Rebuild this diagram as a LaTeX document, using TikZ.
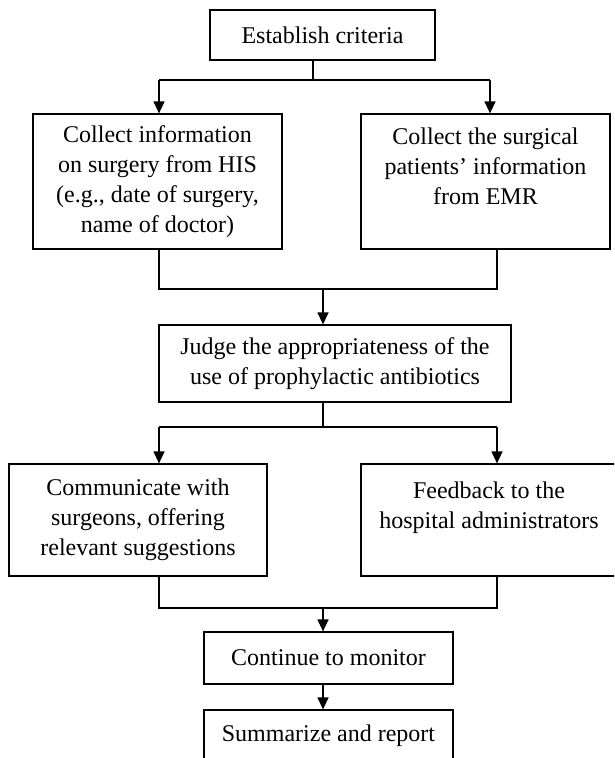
\documentclass[tikz,border=0pt]{standalone}
\usepackage{fontspec}
\setmainfont{Liberation Serif}
\usetikzlibrary{arrows.meta}

\begin{document}
\begin{tikzpicture}
				[x=1pt,y=-1pt,line width=1.2pt,
				every node/.style={draw,align=center,inner sep=0pt,font=\fontsize{24}{30}\selectfont},
				arr/.style={-{Triangle[length=12pt,width=11pt]}}]
				\clip (0,0) rectangle (614,758);
				\node[minimum width=225,minimum height=50] (est) at (322.5,35) {Establish criteria};
				\node[minimum width=249,minimum height=135] (coll1) at (157.5,181.5) {Collect information\\on surgery from HIS\\(e.g., date of surgery,\\name of doctor)};
				\node[minimum width=249,minimum height=135] (coll2) at (485.5,181.5) {Collect the surgical\\patients’ information\\from EMR\\\mbox{}};
				\node[minimum width=352,minimum height=77] (judge) at (335,363.5) {Judge the appropriateness of the\\use of prophylactic antibiotics};
				\node[minimum width=258,minimum height=112] (comm) at (138,520) {Communicate with\\surgeons, offering\\relevant suggestions};
				\node[minimum width=256,minimum height=112] (feed) at (489,520) {Feedback to the\\hospital administrators\\\mbox{}};
				\node[minimum width=249,minimum height=52] (cont) at (328.5,658) {Continue to monitor};
				\node[minimum width=249,minimum height=52] (summ) at (328.5,736) {Summarize and report};
				
				\coordinate (b1) at (313,80);
				\coordinate (l1) at (159,80);
				\coordinate (r1) at (490,80);
				\coordinate (l2) at (159,289);
				\coordinate (m2) at (323,289);
				\coordinate (r2) at (497,289);
				\coordinate (l3) at (159,427);
				\coordinate (m3) at (323,427);
				\coordinate (r3) at (497,427);
				\coordinate (l4) at (159,608);
				\coordinate (m4) at (323,608);
				\coordinate (r4) at (497,608);
				
				\draw (b1 |- est.south) -- (b1);
				\draw (l1) -- (r1);
				\draw (l2 |- coll1.south) -- (l2) -- (r2) -- (r2 |- coll2.south);
				\draw (m3 |- judge.south) -- (m3);
				\draw (l3) -- (r3);
				\draw (l4 |- comm.south) -- (l4) -- (r4) -- (r4 |- feed.south);
				
				\foreach \from/\to in {l1/coll1,r1/coll2,m2/judge,l3/comm,r3/feed,m4/cont}
				\draw[arr] (\from) -- (\from |- \to.north);
				\draw[arr] (m4 |- cont.south) -- (m4 |- summ.north);
				\end{tikzpicture}
\end{document}
